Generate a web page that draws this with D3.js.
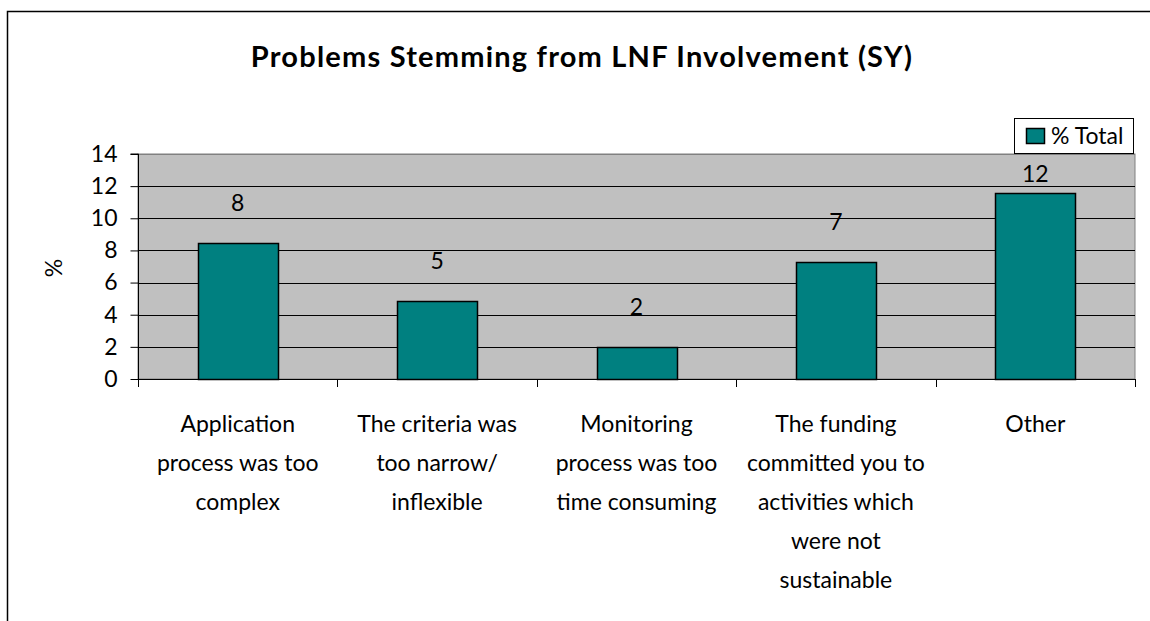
<!DOCTYPE html>
<html>
<head>
    <title>Problems Stemming from LNF Involvement (SY)</title>
    <script src="https://d3js.org/d3.v7.min.js"></script>
    <style>
        body { margin: 0; background: #fff; }
        svg text { font-family: "Lato", "Open Sans", sans-serif; fill: #000; }
    </style>
</head>
<body>
    <svg id="chart"></svg>

    <script>
        // chart data
        const categories = [
            "Application\nprocess was too\ncomplex",
            "The criteria was\ntoo narrow/\ninflexible",
            "Monitoring\nprocess was too\ntime consuming",
            "The funding\ncommitted you to\nactivities which\nwere not\nsustainable",
            "Other"
        ];
        const totals = [8.45, 4.85, 2.0, 7.25, 11.6];
        const valueLabels = ["8", "5", "2", "7", "12"];
        const yTicks = [0, 2, 4, 6, 8, 10, 12, 14];
        const seriesName = "% Total";

        const width = 1150;
        const height = 621;
        const margin = { top: 154, right: 15, bottom: 242, left: 138 };

        const svg = d3.select("#chart")
            .attr("width", width)
            .attr("height", height);

        // outer chart border (right/bottom run off the canvas)
        svg.append("rect")
            .attr("x", 7.5)
            .attr("y", 11.5)
            .attr("width", width + 20)
            .attr("height", height + 20)
            .attr("fill", "#fff")
            .attr("stroke", "#000")
            .attr("stroke-width", 1.5);

        svg.append("text")
            .attr("x", 582)
            .attr("y", 67)
            .attr("text-anchor", "middle")
            .style("font-size", "29px")
            .style("font-weight", "bold")
            .style("letter-spacing", "1.2px")
            .text("Problems Stemming from LNF Involvement (SY)");

        const x = d3.scaleBand()
            .domain(categories)
            .range([margin.left, width - margin.right])
            .paddingInner(0.6)
            .paddingOuter(0.3);

        const xCat = d3.scaleBand()
            .domain(categories)
            .range([margin.left, width - margin.right]);

        const y = d3.scaleLinear()
            .domain([0, 14])
            .range([height - margin.bottom, margin.top]);

        // plot area
        svg.append("rect")
            .attr("x", margin.left)
            .attr("y", margin.top)
            .attr("width", width - margin.right - margin.left)
            .attr("height", y(0) - y(14))
            .attr("fill", "#c0c0c0")
            .attr("stroke", "#808080")
            .attr("stroke-width", 1);

        // gridlines
        svg.append("g")
            .selectAll("line")
            .data(yTicks.filter(d => d > 0))
            .join("line")
            .attr("x1", margin.left)
            .attr("x2", width - margin.right)
            .attr("y1", d => Math.round(y(d)) + 0.5)
            .attr("y2", d => Math.round(y(d)) + 0.5)
            .attr("stroke", d => d === 14 ? "#808080" : "#000")
            .attr("stroke-width", 1);

        // bars
        svg.append("g")
            .selectAll("rect")
            .data(totals)
            .join("rect")
            .attr("x", (d, i) => Math.round(x(categories[i])) + 0.5)
            .attr("y", d => Math.round(y(d)) + 0.5)
            .attr("width", Math.round(x.bandwidth()))
            .attr("height", d => Math.round(y(0)) - Math.round(y(d)))
            .attr("fill", "#008080")
            .attr("stroke", "#000")
            .attr("stroke-width", 1.5);

        // value labels
        svg.append("g")
            .selectAll("text")
            .data(totals)
            .join("text")
            .attr("x", (d, i) => x(categories[i]) + x.bandwidth() / 2)
            .attr("y", d => Math.max(y(d) - 32, y(14) + 28))
            .attr("text-anchor", "middle")
            .style("font-size", "23px")
            .text((d, i) => valueLabels[i]);

        // y axis
        const yAxis = g => g
            .attr("transform", `translate(${margin.left + 0.5},0)`)
            .call(d3.axisLeft(y).tickValues(yTicks).tickSize(8).tickPadding(13))
            .call(g => g.select(".domain").attr("stroke", "#000").attr("d", `M-8,${y(14)}H0V${y(0)}`))
            .call(g => g.selectAll(".tick line").attr("stroke", "#000"))
            .call(g => g.selectAll(".tick text")
                .style("font-size", "23px")
                .style("font-family", "Lato, sans-serif"));
        svg.append("g").call(yAxis);

        // x axis with ticks between categories
        const bounds = categories.map(c => xCat(c)).concat([width - margin.right]);
        const xAxisG = svg.append("g");
        xAxisG.append("line")
            .attr("x1", margin.left)
            .attr("x2", width - margin.right)
            .attr("y1", Math.round(y(0)) + 0.5)
            .attr("y2", Math.round(y(0)) + 0.5)
            .attr("stroke", "#000");
        xAxisG.selectAll(".xtick")
            .data(bounds)
            .join("line")
            .attr("class", "xtick")
            .attr("x1", d => Math.round(d) + 0.5)
            .attr("x2", d => Math.round(d) + 0.5)
            .attr("y1", y(0))
            .attr("y2", y(0) + 8)
            .attr("stroke", "#000");

        // category labels
        xAxisG.selectAll(".xlabel")
            .data(categories)
            .join("text")
            .attr("class", "xlabel")
            .attr("x", d => xCat(d) + xCat.bandwidth() / 2)
            .attr("y", 432)
            .attr("text-anchor", "middle")
            .style("font-size", "23px")
            .each(function(d) {
                const t = d3.select(this);
                d.split("\n").forEach((line, i) => {
                    t.append("tspan")
                        .attr("x", xCat(d) + xCat.bandwidth() / 2)
                        .attr("y", 432 + i * 39)
                        .text(line);
                });
            });

        // y axis title
        svg.append("text")
            .attr("transform", "translate(62,268) rotate(-90)")
            .attr("text-anchor", "middle")
            .style("font-size", "23px")
            .text("%");

        // legend
        const legend = svg.append("g");
        legend.append("rect")
            .attr("x", 1014.5)
            .attr("y", 118.5)
            .attr("width", 119)
            .attr("height", 35)
            .attr("fill", "#fff")
            .attr("stroke", "#000");
        legend.append("rect")
            .attr("x", 1026.5)
            .attr("y", 128.5)
            .attr("width", 18)
            .attr("height", 15)
            .attr("fill", "#008080")
            .attr("stroke", "#000")
            .attr("stroke-width", 1.5);
        legend.append("text")
            .attr("x", 1051)
            .attr("y", 144)
            .style("font-size", "23px")
            .text(seriesName);
    </script>
</body>
</html>
